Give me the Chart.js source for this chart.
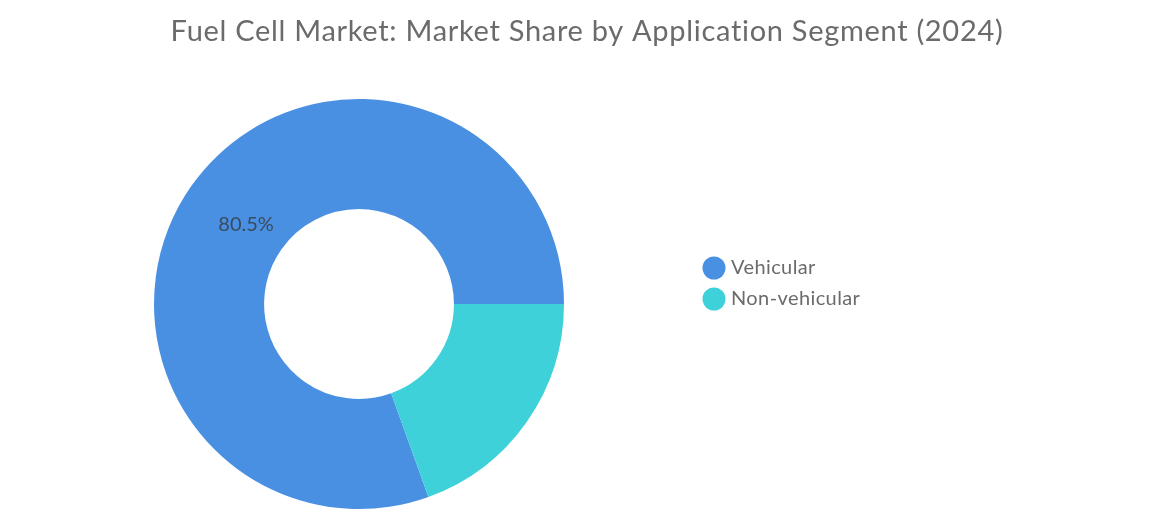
<!DOCTYPE html>
<html>
<head>
<meta charset="utf-8">
<script src="https://cdn.jsdelivr.net/npm/chart.js@4.4.1/dist/chart.umd.min.js"></script>
<style>
  html, body { margin: 0; padding: 0; background: #fff; }
  #wrap { width: 1174px; height: 514px; }
</style>
</head>
<body>
<div id="wrap"><canvas id="chart"></canvas></div>
<script>
const titleText = "Fuel Cell Market: Market Share by Application Segment (2024)";
const segments = ["Vehicular", "Non-vehicular"];
const shares = [80.5, 19.5];
const colors = ["#4a90e2", "#3fd1d9"];

// title across the whole canvas (layout padding would squeeze the built-in one)
const topTitle = {
  id: "topTitle",
  afterDraw(chart) {
    const ctx = chart.ctx;
    ctx.save();
    ctx.font = "29px Lato, sans-serif";
    ctx.letterSpacing = "0.7px";
    ctx.fillStyle = "#6b6b6b";
    ctx.textAlign = "center";
    ctx.textBaseline = "middle";
    ctx.fillText(titleText, chart.width / 2, 32);
    ctx.restore();
  }
};

// labels on the slices (only big ones get one)
const sliceLabels = {
  id: "sliceLabels",
  afterDatasetsDraw(chart) {
    const ctx = chart.ctx;
    const meta = chart.getDatasetMeta(0);
    meta.data.forEach((arc, i) => {
      if (shares[i] < 25) return;
      const mid = (arc.startAngle + arc.endAngle) / 2;
      const r = arc.outerRadius * 0.673;
      ctx.save();
      ctx.font = "20px Lato, sans-serif";
      ctx.fillStyle = "#3b4a5e";
      ctx.textAlign = "center";
      ctx.textBaseline = "middle";
      ctx.fillText(shares[i].toFixed(1) + "%", arc.x + Math.cos(mid) * r, arc.y + Math.sin(mid) * r);
      ctx.restore();
    });
  }
};

// legend drawn next to the doughnut
const sideLegend = {
  id: "sideLegend",
  afterDraw(chart) {
    const ctx = chart.ctx;
    const x = 714, y0 = 268, step = 31;
    ctx.save();
    ctx.font = "20px Lato, sans-serif";
    ctx.letterSpacing = "0.4px";
    ctx.textBaseline = "middle";
    segments.forEach((name, i) => {
      const y = y0 + i * step;
      ctx.beginPath();
      ctx.arc(x, y, 11.5, 0, Math.PI * 2);
      ctx.fillStyle = colors[i];
      ctx.fill();
      ctx.fillStyle = "#6b6b6b";
      ctx.fillText(name, x + 17, y);
    });
    ctx.restore();
  }
};

new Chart(document.getElementById("chart"), {
  type: "doughnut",
  data: {
    labels: segments,
    datasets: [{
      data: shares,
      backgroundColor: colors,
      borderWidth: 0
    }]
  },
  options: {
    responsive: true,
    maintainAspectRatio: false,
    animation: false,
    cutout: "46.3%",
    rotation: 90 + shares[1] * 3.6,
    layout: { padding: { left: 154, right: 610, top: 99, bottom: 5 } },
    plugins: {
      title: { display: false },
      legend: { display: false },
      tooltip: { enabled: false }
    }
  },
  plugins: [sliceLabels, sideLegend, topTitle]
});
</script>
</body>
</html>
